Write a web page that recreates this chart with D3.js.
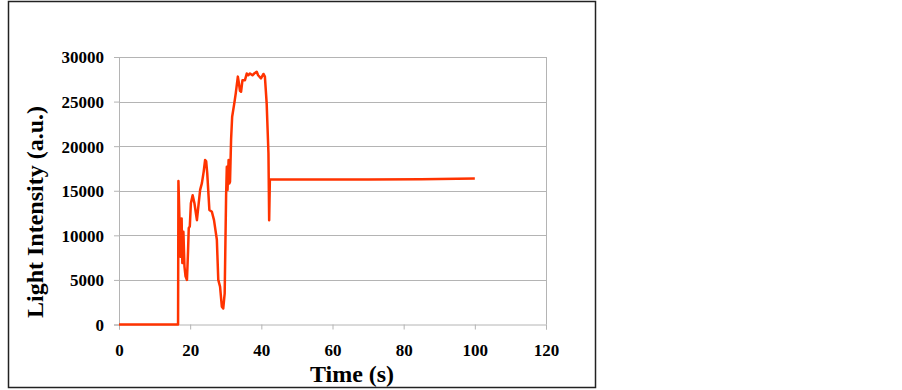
<!DOCTYPE html>
<html>
<head>
<meta charset="utf-8">
<script src="https://cdn.jsdelivr.net/npm/d3@7"></script>
<style>
  body { margin: 0; background: #fff; }
  text { font-family: "Liberation Serif", "Times New Roman", serif; font-weight: bold; fill: #000; }
</style>
</head>
<body>
<svg width="902" height="390"></svg>
<script>
// time (s) and light intensity (a.u.)
var times = [0, 16.6, 16.7, 17.0, 17.3, 17.6, 17.8, 18.1, 18.4, 18.7, 19.1, 19.4, 19.6, 19.9,
    20.2, 20.7, 21.2, 21.6, 21.9, 22.2, 22.8, 23.3, 23.8, 24.2, 24.5, 24.8, 25.4, 26.1, 26.7,
    27.5, 27.9, 28.4, 28.9, 29.3, 29.7, 30.1, 30.3, 30.5, 30.8, 31.0, 31.2, 31.5, 31.8, 32.4,
    32.8, 33.4, 33.7, 34.0, 34.3, 34.7, 35.4, 35.9, 36.3, 36.8, 37.5, 38.0, 38.7, 39.1, 39.9,
    40.6, 41.0, 41.5, 42.0, 42.2, 42.4, 55, 70, 85, 100];
var intensity = [0, 0, 16100, 11700, 7600, 11900, 6900, 10400, 6500, 5400, 5000, 8200, 10800, 11000,
    13600, 14500, 13600, 12500, 11700, 12850, 15100, 15850, 17150, 18450, 18300, 16950, 12850, 12650, 11700,
    9500, 5000, 4250, 2000, 1800, 3500, 14500, 17700, 15100, 18450, 15800, 16000, 20750, 23300, 24800,
    25900, 27800, 27050, 26200, 26100, 27400, 27400, 28150, 27950, 28150, 27950, 28150, 28350, 27950, 27600,
    28100, 27800, 24800, 19200, 11700, 16300, 16250, 16250, 16300, 16370];
var xTicks = [0, 20, 40, 60, 80, 100, 120];
var yTicks = [0, 5000, 10000, 15000, 20000, 25000, 30000];

var svg = d3.select("svg");
var margin = {"top": 57, "left": 119, "right": 356, "bottom": 65.5};
var width = +svg.attr("width") - margin.left - margin.right;
var height = +svg.attr("height") - margin.top - margin.bottom;

// outer frame
svg.append("rect")
    .attr("x", 8.5).attr("y", 1.5)
    .attr("width", 587).attr("height", 386)
    .attr("fill", "none").attr("stroke", "#222").attr("stroke-width", 1.5);

var g = svg.append("g").attr("transform", "translate(" + margin.left + "," + margin.top + ")");

var x = d3.scaleLinear().range([0, width]).domain([0, 120]);
var y = d3.scaleLinear().range([height, 0]).domain([0, 30000]);

// grid
g.selectAll(".grid")
    .data(yTicks.slice(1))
    .enter().append("line")
    .attr("class", "grid")
    .attr("x1", 0).attr("x2", width)
    .attr("y1", function(d) { return Math.round(y(d)) + 0.5; })
    .attr("y2", function(d) { return Math.round(y(d)) + 0.5; })
    .attr("stroke", "#b4b4b4").attr("stroke-width", 1);

g.append("line")
    .attr("x1", width + 0.5).attr("x2", width + 0.5)
    .attr("y1", 0).attr("y2", height)
    .attr("stroke", "#b4b4b4");

var yAxis = g.append("g")
    .call(d3.axisLeft(y).tickValues(yTicks).tickSize(5).tickPadding(10).tickFormat(d3.format("d")));
var xAxis = g.append("g")
    .attr("transform", "translate(0," + height + ")")
    .call(d3.axisBottom(x).tickValues(xTicks).tickSize(5).tickPadding(14).tickFormat(d3.format("d")));

[yAxis, xAxis].forEach(function(a) {
    a.select(".domain").attr("stroke", "#b4b4b4");
    a.selectAll(".tick line").attr("stroke", "#b4b4b4");
    a.selectAll(".tick text")
        .style("font-family", "'Liberation Serif', 'Times New Roman', serif")
        .style("font-weight", "bold")
        .style("font-size", "17px")
        .attr("fill", "#000");
});
yAxis.selectAll(".tick text").attr("dy", "0.35em");

var line = d3.line()
    .x(function(d) { return x(d[0]); })
    .y(function(d) { return y(d[1]); });

g.append("path")
    .datum(d3.zip(times, intensity))
    .attr("d", line)
    .attr("fill", "none")
    .attr("stroke", "#ff3300")
    .attr("stroke-width", 2.5)
    .attr("stroke-linejoin", "round");

svg.append("text")
    .attr("x", 352).attr("y", 382)
    .attr("text-anchor", "middle")
    .style("font-size", "24px")
    .text("Time (s)");

svg.append("text")
    .attr("transform", "translate(43,212) rotate(-90)")
    .attr("text-anchor", "middle")
    .style("font-size", "24px")
    .text("Light Intensity (a.u.)");
</script>
</body>
</html>
